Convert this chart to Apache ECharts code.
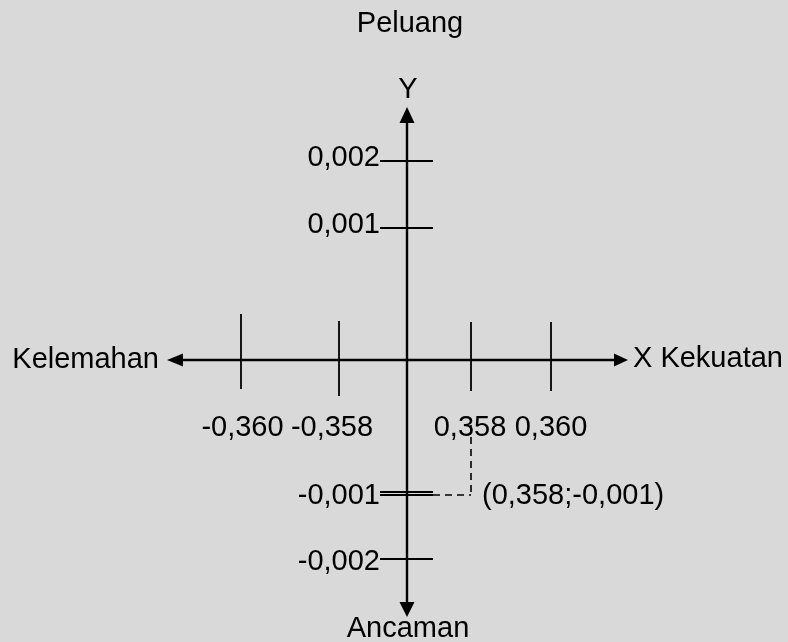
<!DOCTYPE html>
<html>
<head>
<meta charset="utf-8">
<script src="https://cdn.jsdelivr.net/npm/echarts@6/dist/echarts.min.js"></script>
<style>
html,body{margin:0;padding:0;background:#d9d9d9;}
#chart{width:788px;height:642px;}
</style>
</head>
<body>
<div id="chart"></div>
<script>
// ---- data ----
const xTickValues = [-0.360, -0.358, 0.358, 0.360];
const xTickLabels = ['-0,360', '-0,358', '0,358', '0,360'];
const yTickValues = [0.002, 0.001, -0.001, -0.002];
const yTickLabels = ['0,002', '0,001', '-0,001', '-0,002'];
const pointValue = [0.358, -0.001];
const pointLabel = '(0,358;-0,001)';
const nameTop = 'Peluang';
const nameBottom = 'Ancaman';
const nameLeft = 'Kelemahan';
const nameRight = 'X Kekuatan';
const nameY = 'Y';

// ---- layout (the diagram is not drawn to scale: diagram positions of each tick) ----
const xTickPos = [-166, -68, 64, 144];
const xTickUp = [46, 39, 38, 38];
const xTickDown = [29, 36, 31, 31];
const xLabelDx = [1.5, -7, -1, 0];
const yTickPos = [199, 132, -132, -199];
const yLabelDy = [-3.5, -3, 3.5, 2.5];
const axisExtent = { left: -240, right: 221, top: 253, bottom: -257 };

const FONT = 29;
const FAMILY = '"Liberation Sans", Arial, Helvetica, sans-serif';
function txt(x, y, s, align) {
  return { type: 'text', x: x, y: y, silent: true,
    style: { text: s, fontSize: FONT, fontFamily: FAMILY, fill: '#000',
      align: align || 'center', verticalAlign: 'middle' } };
}
function ln(x1, y1, x2, y2, w, dash) {
  return { type: 'line', silent: true, shape: { x1: x1, y1: y1, x2: x2, y2: y2 },
    style: { stroke: '#000', lineWidth: w, lineDash: dash || null } };
}
function poly(pts) {
  return { type: 'polygon', silent: true, shape: { points: pts }, style: { fill: '#000' } };
}
function pt(api, x, y) {
  const c = api.coord([x, y]);
  return { x: c[0], y: c[1] };
}

const chart = echarts.init(document.getElementById('chart'), null, { renderer: 'canvas' });

const pointPos = [
  xTickPos[xTickValues.indexOf(pointValue[0])],
  yTickPos[yTickValues.indexOf(pointValue[1])] - 3
];

chart.setOption({
  backgroundColor: '#d9d9d9',
  animation: false,
  grid: { left: 0, right: 0, top: 0, bottom: 0 },
  xAxis: { type: 'value', min: -407, max: 381, show: false },
  yAxis: { type: 'value', min: -282, max: 360, show: false },
  series: [
    {
      type: 'custom', name: 'axes', silent: true,
      data: [[0, 0]],
      renderItem: function (params, api) {
        const o = pt(api, 0, 0);
        const L = pt(api, axisExtent.left, 0);
        const R = pt(api, axisExtent.right, 0);
        const T = pt(api, 0, axisExtent.top);
        const B = pt(api, 0, axisExtent.bottom);
        return { type: 'group', children: [
          ln(L.x + 8, o.y, R.x - 6, o.y, 2.4),
          poly([[L.x, o.y], [L.x + 16, o.y - 6.5], [L.x + 16, o.y + 6.5]]),
          poly([[R.x, o.y], [R.x - 14, o.y - 6.5], [R.x - 14, o.y + 6.5]]),
          ln(o.x, T.y + 8, o.x, B.y - 8, 2.4),
          poly([[o.x, T.y], [o.x - 7.5, T.y + 16], [o.x + 7.5, T.y + 16]]),
          poly([[o.x, B.y], [o.x - 7.5, B.y - 15], [o.x + 7.5, B.y - 15]]),
          txt(L.x - 8, o.y, nameLeft, 'right'),
          txt(R.x + 5, o.y - 1, nameRight, 'left'),
          txt(o.x + 1, T.y - 17, nameY),
          txt(o.x + 1, B.y + 12, nameBottom),
          txt(o.x + 3, T.y - 83.5, nameTop)
        ] };
      }
    },
    {
      type: 'custom', name: 'xTicks', silent: true,
      data: xTickValues.map(function (v, i) { return [xTickPos[i], 0, i]; }),
      renderItem: function (params, api) {
        const i = api.value(2);
        const p = pt(api, api.value(0), 0);
        return { type: 'group', children: [
          ln(p.x, p.y - xTickUp[i], p.x, p.y + xTickDown[i], 1.8),
          txt(p.x + xLabelDx[i], p.y + 67.5, xTickLabels[i])
        ] };
      }
    },
    {
      type: 'custom', name: 'yTicks', silent: true,
      data: yTickValues.map(function (v, i) { return [0, yTickPos[i], i]; }),
      renderItem: function (params, api) {
        const i = api.value(2);
        const p = pt(api, 0, api.value(1));
        return { type: 'group', children: [
          ln(p.x - 27, p.y, p.x + 26, p.y, 1.8),
          txt(p.x - 27, p.y + yLabelDy[i], yTickLabels[i], 'right')
        ] };
      }
    },
    {
      type: 'custom', name: 'point', silent: true,
      data: [[pointPos[0], pointPos[1]]],
      renderItem: function (params, api) {
        const P = pt(api, api.value(0), api.value(1));
        const o = pt(api, 0, 0);
        return { type: 'group', children: [
          ln(o.x - 27, P.y, o.x + 26, P.y, 1.8),
          ln(o.x + 26, P.y, P.x, P.y, 1.6, [7, 5]),
          ln(P.x, P.y - 70, P.x, P.y, 1.6, [7, 5]),
          txt(P.x + 11, P.y + 1, pointLabel, 'left')
        ] };
      }
    }
  ]
});
</script>
</body>
</html>
